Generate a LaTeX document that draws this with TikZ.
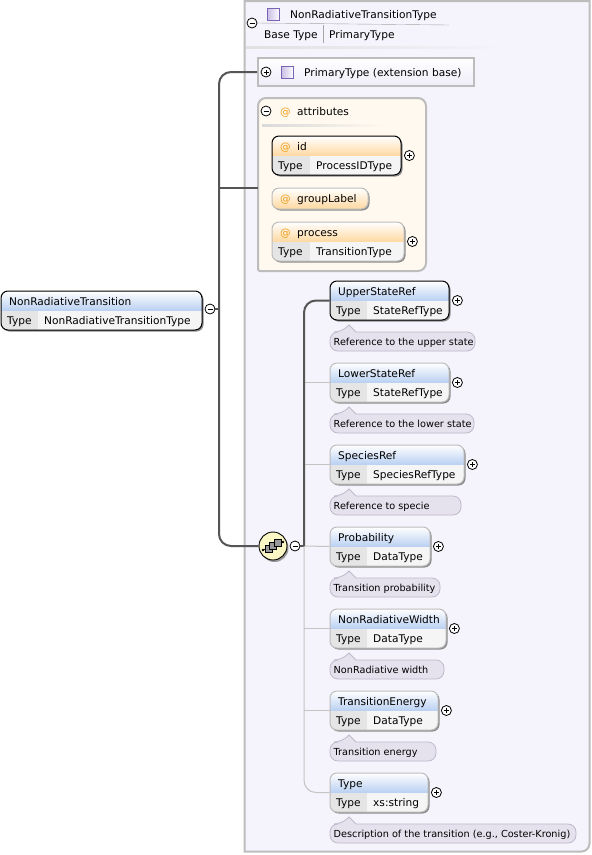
\documentclass[tikz,border=0pt]{standalone}
\usepackage{fontspec}
\setmainfont{DejaVu Sans}
\usetikzlibrary{positioning}
\definecolor{panelbg}{HTML}{F5F3FB}
\definecolor{panelline}{HTML}{BDBDBD}
\definecolor{trunkline}{HTML}{555555}
\definecolor{branchline}{HTML}{C4C4C4}
\definecolor{elemblue}{HTML}{B8CFF2}
\definecolor{attrorange}{HTML}{FFD8A0}
\definecolor{attrbg}{HTML}{FFF9EF}
\definecolor{atsign}{HTML}{F0A020}
\definecolor{notebg}{HTML}{E5E2EE}
\definecolor{noteline}{HTML}{BEBACB}
\definecolor{iconfill}{HTML}{C9BFE6}
\definecolor{iconline}{HTML}{7A62B5}
\definecolor{seqfill}{HTML}{FBF7C4}
\tikzset{
  label/.style={inner sep=0pt,anchor=west,text height=7.5pt,text depth=0pt,font=\fontsize{10.6}{12}\selectfont},
  notelabel/.style={label,font=\fontsize{9.7}{11}\selectfont},
  heavy/.style={draw=trunkline,line width=2pt},
  thinbranch/.style={draw=branchline,line width=1pt},
  expander/.style={circle,draw,fill=white,minimum size=10pt,inner sep=0pt,line width=.8pt},
  minus/.style={expander,path picture={\draw[line width=.8pt] ([xshift=-2.5pt]path picture bounding box.center) -- ([xshift=2.5pt]path picture bounding box.center);}},
  plus/.style={expander,path picture={\draw[line width=.8pt] ([xshift=-2.5pt]path picture bounding box.center) -- ([xshift=2.5pt]path picture bounding box.center) ([yshift=-2.5pt]path picture bounding box.center) -- ([yshift=2.5pt]path picture bounding box.center);}},
  typeicon/.style={draw=iconline,line width=.9pt,left color=iconfill,right color=white,minimum size=12pt,inner sep=0pt},
  seqsquare/.style={draw=black,line width=.7pt,fill=black!40,minimum size=7pt,inner sep=0pt}
}
\newcommand{\atmark}[1]{\makebox[17pt][l]{\textcolor{atsign}{@}}#1}
% name, x, y, width, type cell width, title, type, head colour, border colour
\newcommand{\typedbox}[9]{
  \fill[black!45,rounded corners=7] ({#2+1.5},{#3+1.5}) rectangle ({#2+#4+1.5},{#3+40.5});
  \begin{scope}
    \clip[rounded corners=7] (#2,#3) rectangle ({#2+#4},{#3+39});
    \shade[top color=white,bottom color=#8] (#2,#3) rectangle ({#2+#4},{#3+20});
    \fill[black!10] (#2,{#3+20}) rectangle ({#2+#5},{#3+39});
    \fill[black!4] ({#2+#5},{#3+20}) rectangle ({#2+#4},{#3+39});
  \end{scope}
  \node[draw=#9,line width=1pt,rounded corners=7,minimum width=#4pt,minimum height=39pt,inner sep=0pt] (#1) at ({#2+#4/2},{#3+19.5}) {};
  \node[label] (#1-title) at ({#2+8},{#3+10.5}) {#6};
  \node[label] (#1-typekey) at ({#2+6},{#3+30}) {Type};
  \node[label] (#1-type) at ({#2+#5+6},{#3+30}) {#7};
}
% name, x, y, width, text
\newcommand{\docnote}[5]{
  \draw[fill=notebg,draw=noteline,line width=.8pt] ({#2+12},#3) -- ({#2+19},{#3-7}) -- ({#2+26},#3) [rounded corners=8] -- ({#2+#4},#3) -- ({#2+#4},{#3+19}) -- (#2,{#3+19}) -- (#2,#3) -- cycle;
  \node[notelabel] (#1) at ({#2+3.5},{#3+10}) {#5};
}
\begin{document}
\begin{tikzpicture}[x=1pt,y=-1pt]
  \useasboundingbox (0,0) rectangle (592,855);
  \fill[white] (0,0) rectangle (592,855);
  \draw[fill=panelbg,draw=panelline,line width=2pt] (244.5,1) -- (589.5,1) [rounded corners=8] -- (589.5,851.5) [sharp corners] -- (244.5,851.5) -- cycle;

  \node[minus] (panelminus) at (252,23) {};
  \node[typeicon] (panelicon) at (273.5,14.5) {};
  \node[label] (paneltitle) at (290,14.5) {NonRadiativeTransitionType};
  \node[label] (basekey) at (264,34.5) {Base Type};
  \node[label] (baseval) at (329,34.5) {PrimaryType};
  \draw[black!35] (panelminus.east) -- (449,25);
  \draw[black!35] (323,25) -- (323,43);
  \shade[left color=black!12,right color=panelbg] (246,46) rectangle (505,48);

  \node[draw=panelline,line width=2pt,top color=white,bottom color=iconfill!30,minimum width=216pt,minimum height=28pt,inner sep=0pt] (primary) at (366,72) {};
  \node[plus] (primaryplus) at (266,72) {};
  \node[typeicon] (primaryicon) at (287.5,72) {};
  \node[label] (primarytext) at (304,72.5) {PrimaryType (extension base)};

  \draw[fill=attrbg,draw=panelline,line width=2pt,rounded corners=8] (258,98) [rounded corners=2] -- (258,271) [rounded corners=8] -- (426,271) -- (426,98) -- cycle;
  \node[minimum width=168pt,minimum height=173pt,inner sep=0pt] (attrs) at (342,184.5) {};
  \node[minus] (attrsminus) at (266,111) {};
  \node[label] (attrstext) at (280,111.5) {\atmark{attributes}};
  \shade[left color=black!15,right color=attrbg] (262,124.5) rectangle (385,126.5);

  \typedbox{id}{272}{136}{129}{38}{\atmark{id}}{ProcessIDType}{attrorange}{black}
  \node[plus,right=2.5pt of id] (id-plus) {};
  \fill[black!45,rounded corners=7] (273.5,189.5) rectangle (369.5,210.5);
  \node[draw=panelline,line width=1pt,rounded corners=7,top color=white,bottom color=attrorange,minimum width=96pt,minimum height=21pt,inner sep=0pt] (groupLabel) at (320,198.5) {};
  \node[label] (groupLabel-title) at (280,198.5) {\atmark{groupLabel}};
  \typedbox{process}{272}{222}{132}{38}{\atmark{process}}{TransitionType}{attrorange}{panelline}
  \node[plus,right=2.5pt of process] (process-plus) {};

  \typedbox{root}{1}{291}{201}{37}{NonRadiativeTransition}{NonRadiativeTransitionType}{elemblue}{black}
  \node[minus] (rootminus) at (210,309) {};
  \coordinate (trunk) at (219,309);

  \fill[black!40] (274.5,548) circle (14);
  \node[circle,draw=black,line width=.9pt,fill=seqfill,minimum size=28pt,inner sep=0pt] (sequence) at (273,546) {};
  \node[minus] (seqminus) at (295,546) {};
  \coordinate (seqtrunk) at (304,546);
  \draw[line width=.8pt] (263,550) -- (283,542);
  \node[seqsquare] (seqa) at (268.5,549) {};
  \node[seqsquare] (seqb) at (273,546) {};
  \node[seqsquare] (seqc) at (277.5,542.5) {};
  \fill (263,550) circle (1.3);
  \fill (283,542) circle (1.3);

  \draw[heavy] (rootminus.east) -- (trunk);
  \draw[heavy,rounded corners=12] (primary.west) -| (trunk) |- (sequence.west);
  \draw[heavy] ([yshift=-3.5pt]attrs.west) -- +(-39,0);
  \draw[heavy] (seqminus.east) -- (seqtrunk);

  \typedbox{UpperStateRef}{330}{281}{119}{37}{UpperStateRef}{StateRefType}{elemblue}{black}
  \node[plus,right=2.5pt of UpperStateRef] (UpperStateRef-plus) {};
  \docnote{UpperStateRef-doc}{330}{332}{145}{Reference to the upper state}
  \typedbox{LowerStateRef}{330}{363}{119}{37}{LowerStateRef}{StateRefType}{elemblue}{panelline}
  \node[plus,right=2.5pt of LowerStateRef] (LowerStateRef-plus) {};
  \docnote{LowerStateRef-doc}{330}{414}{144}{Reference to the lower state}
  \typedbox{SpeciesRef}{330}{445}{134}{37}{SpeciesRef}{SpeciesRefType}{elemblue}{panelline}
  \node[plus,right=2.5pt of SpeciesRef] (SpeciesRef-plus) {};
  \docnote{SpeciesRef-doc}{330}{496}{131}{Reference to specie}
  \typedbox{Probability}{330}{527}{100}{37}{Probability}{DataType}{elemblue}{panelline}
  \node[plus,right=2.5pt of Probability] (Probability-plus) {};
  \docnote{Probability-doc}{330}{578}{110}{Transition probability}
  \typedbox{NonRadiativeWidth}{330}{609}{116}{37}{NonRadiativeWidth}{DataType}{elemblue}{panelline}
  \node[plus,right=2.5pt of NonRadiativeWidth] (NonRadiativeWidth-plus) {};
  \docnote{NonRadiativeWidth-doc}{330}{660}{114}{NonRadiative width}
  \typedbox{TransitionEnergy}{330}{691}{108}{37}{TransitionEnergy}{DataType}{elemblue}{panelline}
  \node[plus,right=2.5pt of TransitionEnergy] (TransitionEnergy-plus) {};
  \docnote{TransitionEnergy-doc}{330}{742}{106}{Transition energy}
  \typedbox{Type}{330}{773}{98}{37}{Type}{xs:string}{elemblue}{panelline}
  \node[plus,right=2.5pt of Type] (Type-plus) {};
  \docnote{Type-doc}{330}{824}{246}{Description of the transition (e.g., Coster-Kronig)}

  \draw[thinbranch,rounded corners=12] (seqtrunk) |- (Type.west);
  \draw[thinbranch] (seqtrunk |- LowerStateRef.west) -- (LowerStateRef.west);
  \draw[thinbranch] (seqtrunk |- SpeciesRef.west) -- (SpeciesRef.west);
  \draw[thinbranch] (seqtrunk) -- (Probability.west);
  \draw[thinbranch] (seqtrunk |- NonRadiativeWidth.west) -- (NonRadiativeWidth.west);
  \draw[thinbranch] (seqtrunk |- TransitionEnergy.west) -- (TransitionEnergy.west);
  \draw[heavy,rounded corners=12] (seqtrunk) |- (UpperStateRef.west);
\end{tikzpicture}
\end{document}
